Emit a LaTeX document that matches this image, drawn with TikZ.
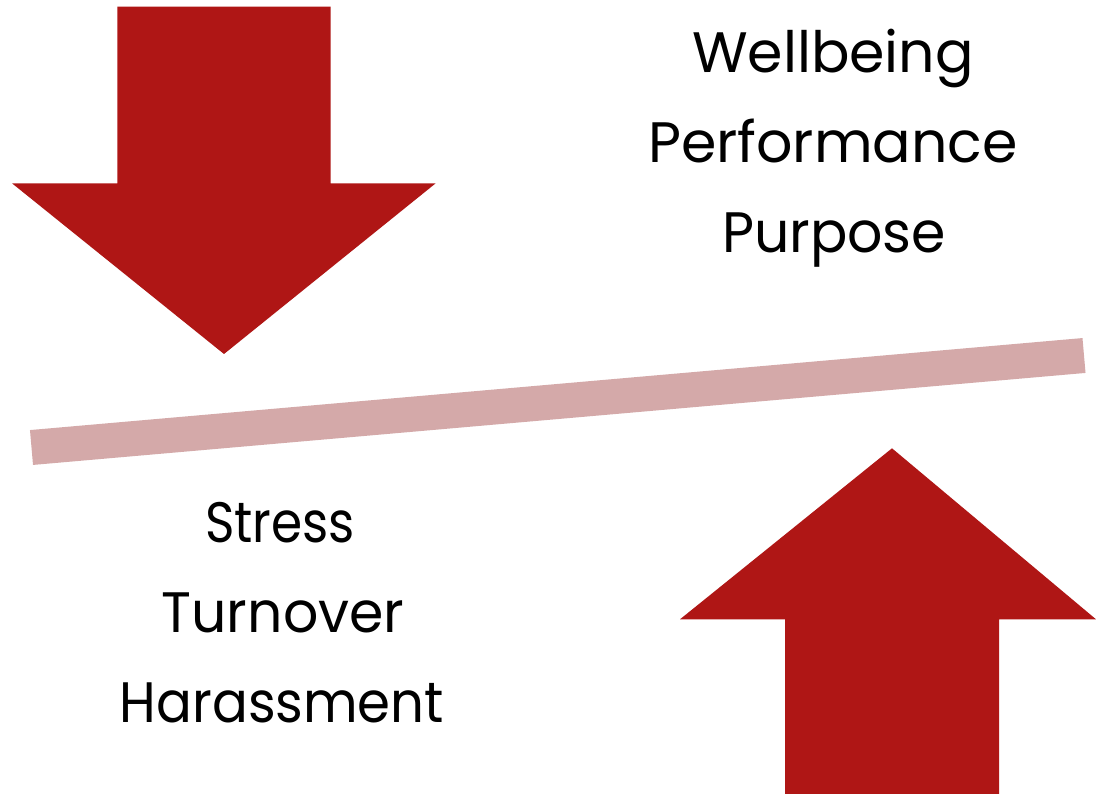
\documentclass[tikz,border=0pt]{standalone}
\usepackage{fontspec}
\setmainfont{Poppins}
\definecolor{arrowred}{HTML}{AF1615}
\definecolor{barpink}{HTML}{D4A9A9}
\tikzset{
  bigarrow/.style={fill=arrowred, draw=none},
  word/.style={anchor=base, inner sep=0pt, font=\fontsize{57}{64}\selectfont, text=black},
}
\begin{document}
\begin{tikzpicture}[x=1pt,y=-1pt]
\useasboundingbox (0,0) rectangle (1096,794);
\fill[white] (0,0) rectangle (1096,794);
% down arrow
\fill[bigarrow] (117.3,6.7) -- (330.7,6.7) -- (330.7,183.3) -- (435.7,183.3) -- (224,354) -- (12,183.3) -- (117.3,183.3) -- cycle;
% up arrow
\fill[bigarrow] (785,794) -- (999,794) -- (999,619.3) -- (1096,619.3) -- (892,448.3) -- (680,619.3) -- (785,619.3) -- cycle;
% balance bar
\coordinate (barL) at (31.5,447.5);
\coordinate (barR) at (1084,355.5);
\draw[barpink, line width=35pt, line cap=butt] (barL) -- (barR);
% texts
\node[word] (w1) at (833,73) {Wellbeing};
\node[word] (w2) at (833,163) {Performance};
\node[word] (w3) at (834,253) {\scalebox{0.97}[1]{Purpose}};
\node[word] (s1) at (280,542) {\scalebox{0.88}[1]{Stress}};
\node[word] (s2) at (283,632) {\scalebox{0.97}[1]{Turnover}};
\node[word] (s3) at (282,722) {\scalebox{0.93}[1]{Harassment}};
\end{tikzpicture}
\end{document}
